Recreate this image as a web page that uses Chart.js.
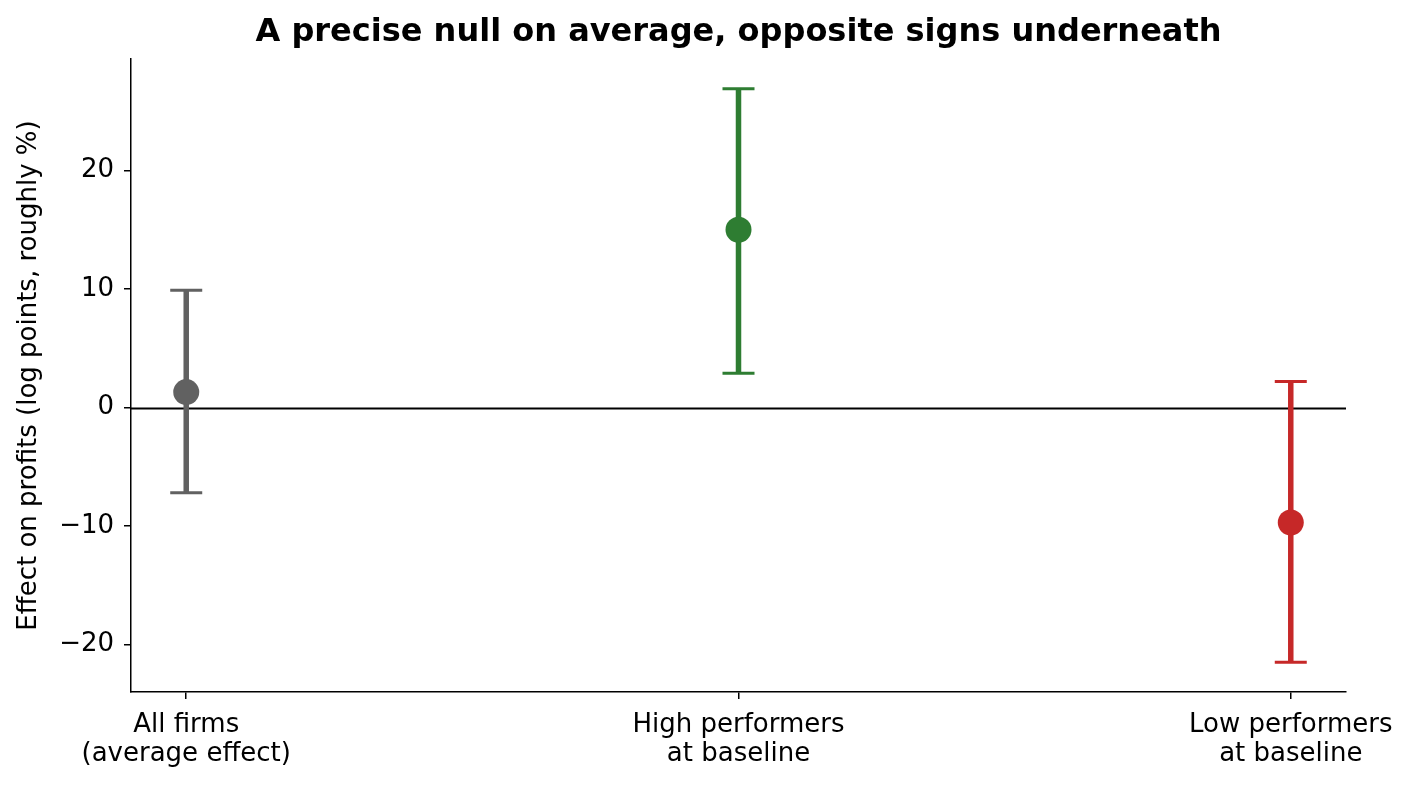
<!DOCTYPE html>
<html>
<head>
<meta charset="utf-8">
<script src="https://cdn.jsdelivr.net/npm/chart.js@4/dist/chart.umd.min.js"></script>
<style>
  html, body { margin: 0; padding: 0; background: #fff; }
  #wrap { width: 1414px; height: 787px; }
</style>
</head>
<body>
<div id="wrap"><canvas id="myChart" width="1414" height="787"></canvas></div>
<script>
var categories = [['All firms', '(average effect)'], ['High performers', 'at baseline'], ['Low performers', 'at baseline']];
var estimates = [1.3, 15.0, -9.7];
var ciLow = [-7.2, 2.9, -21.5];
var ciHigh = [9.9, 26.9, 2.2];
var colors = ['#616161', '#2e7d32', '#c62828'];
var yTicks = [-20, -10, 0, 10, 20];
var titleText = 'A precise null on average, opposite signs underneath';
var yLabel = 'Effect on profits (log points, roughly %)';

var FONT = "'DejaVu Sans', sans-serif";

// zero line + error bars drawn with the chart scales
var errorBars = {
  id: 'errorBars',
  beforeDatasetsDraw: function (chart) {
    var c = chart.ctx, xs = chart.scales.x, ys = chart.scales.y, a = chart.chartArea;
    c.save();
    c.strokeStyle = '#000';
    c.lineWidth = 2;
    c.beginPath();
    c.moveTo(a.left, Math.round(ys.getPixelForValue(0)) + 0.5);
    c.lineTo(a.right, Math.round(ys.getPixelForValue(0)) + 0.5);
    c.stroke();
    for (var i = 0; i < estimates.length; i++) {
      var x = xs.getPixelForValue(i);
      var y1 = ys.getPixelForValue(ciLow[i]);
      var y2 = ys.getPixelForValue(ciHigh[i]);
      c.strokeStyle = colors[i];
      c.lineWidth = 5.5;
      c.beginPath();
      c.moveTo(x, y1);
      c.lineTo(x, y2);
      c.stroke();
      c.lineWidth = 3;
      c.beginPath();
      c.moveTo(x - 16, y1); c.lineTo(x + 16, y1);
      c.moveTo(x - 16, y2); c.lineTo(x + 16, y2);
      c.stroke();
    }
    c.restore();
  },
  afterDraw: function (chart) {
    var c = chart.ctx, a = chart.chartArea;
    c.save();
    c.fillStyle = '#000';
    c.font = 'bold 32px ' + FONT;
    c.textAlign = 'center';
    c.textBaseline = 'middle';
    c.fillText(titleText, (a.left + a.right) / 2, 33);
    c.restore();
  }
};

var ctx = document.getElementById('myChart').getContext('2d');
var myChart = new Chart(ctx, {
  type: 'scatter',
  data: {
    datasets: [{
      data: estimates.map(function (v, i) { return { x: i, y: v }; }),
      pointRadius: 13,
      pointHoverRadius: 13,
      pointBorderWidth: 0,
      pointBackgroundColor: colors,
      pointBorderColor: colors
    }]
  },
  options: {
    responsive: false,
    animation: false,
    events: [],
    layout: { padding: { top: 59, right: 68, left: 0, bottom: 0 } },
    scales: {
      x: {
        type: 'linear',
        min: -0.1,
        max: 2.1,
        afterBuildTicks: function (s) { s.ticks = categories.map(function (c, i) { return { value: i }; }); },
        afterFit: function (s) { s.height = 95; },
        grid: { display: true, drawOnChartArea: false, drawTicks: true, tickLength: 7, color: '#000', lineWidth: 1.5 },
        border: { display: true, color: '#000', width: 1.5 },
        ticks: {
          color: '#000',
          padding: 12,
          maxRotation: 0,
          font: { family: FONT, size: 26, lineHeight: 1.1 },
          callback: function (v) { return categories[v]; }
        }
      },
      y: {
        min: -24,
        max: 29.4,
        afterBuildTicks: function (s) { s.ticks = yTicks.map(function (v) { return { value: v }; }); },
        afterFit: function (s) { s.width = 131; },
        grid: { display: true, drawOnChartArea: false, drawTicks: true, tickLength: 7, color: '#000', lineWidth: 1.5 },
        border: { display: true, color: '#000', width: 1.5 },
        title: {
          display: true,
          text: yLabel,
          color: '#000',
          font: { family: FONT, size: 26 },
          padding: { top: 14, bottom: 0 }
        },
        ticks: {
          color: '#000',
          padding: 10,
          font: { family: FONT, size: 26 },
          callback: function (v) { return v < 0 ? '\u2212' + Math.abs(v) : String(v); }
        }
      }
    },
    plugins: {
      legend: { display: false },
      tooltip: { enabled: false },
      title: { display: false }
    }
  },
  plugins: [errorBars]
});
</script>
</body>
</html>
